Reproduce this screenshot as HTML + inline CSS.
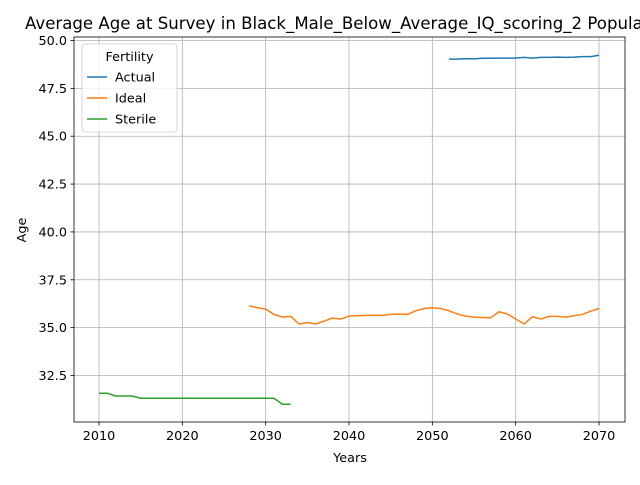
<!DOCTYPE html>
<html><head><meta charset="utf-8"><style>
body{margin:0;background:#fff;overflow:hidden}
svg text{font-family:"DejaVu Sans","Liberation Sans",sans-serif;fill:#000}
</style></head><body>
<svg id="chart" width="640" height="480" viewBox="0 0 640 480" xmlns="http://www.w3.org/2000/svg"></svg>
<script>
const xTicks=[2010,2020,2030,2040,2050,2060,2070];
const yTicks=[32.5,35.0,37.5,40.0,42.5,45.0,47.5,50.0];
const actualYears=[2052,2053,2054,2055,2056,2057,2058,2059,2060,2061,2062,2063,2064,2065,2066,2067,2068,2069,2070];
const actualVals=[49.03,49.03,49.05,49.04,49.07,49.07,49.08,49.08,49.08,49.12,49.08,49.12,49.12,49.13,49.12,49.13,49.16,49.16,49.23];
const idealStart=2028;
const idealVals=[36.14,36.04,35.97,35.69,35.55,35.59,35.19,35.26,35.19,35.34,35.50,35.45,35.60,35.62,35.64,35.64,35.64,35.69,35.71,35.69,35.88,36.00,36.04,36.00,35.88,35.71,35.60,35.55,35.53,35.52,35.83,35.71,35.45,35.19,35.57,35.45,35.59,35.59,35.55,35.62,35.69,35.86,36.00];
const sterileStart=2010;
const sterileVals=[31.57,31.57,31.43,31.43,31.43,31.31,31.31,31.31,31.31,31.31,31.31,31.31,31.31,31.31,31.31,31.31,31.31,31.31,31.31,31.31,31.31,31.31,31.0,31.0];

const L=74,R=625,T=37,B=422;
const X=v=>99+(v-2010)*(500/60);
const Y=v=>40.5+(50-v)*(335/17.5);
const svg=document.getElementById('chart');
const NS='http://www.w3.org/2000/svg';
function mk(tag,attrs,parent){const e=document.createElementNS(NS,tag);for(const k in attrs)e.setAttribute(k,attrs[k]);(parent||svg).appendChild(e);return e;}

xTicks.forEach(t=>{
  const g=mk('line',{x1:X(t),x2:X(t),y1:T,y2:B,stroke:'#b0b0b0','stroke-width':0.8});
  
  
  mk('line',{x1:X(t),x2:X(t),y1:B,y2:B+3.5,stroke:'#000','stroke-width':0.8});
  const tx=mk('text',{x:X(t),y:B+18,'font-size':12.8,'text-anchor':'middle'});tx.textContent=t;
  
  
});
yTicks.forEach(t=>{
  const g=mk('line',{x1:L,x2:R,y1:Y(t),y2:Y(t),stroke:'#b0b0b0','stroke-width':0.8});
  
  
  mk('line',{x1:L-3.5,x2:L,y1:Y(t),y2:Y(t),stroke:'#000','stroke-width':0.8});
  const tx=mk('text',{x:L-7,y:Y(t)+4.5,'font-size':12.8,'text-anchor':'end'});tx.textContent=t.toFixed(1);
  
  
});
function line(xs,vs,color,name){
  const p=mk('polyline',{points:vs.map((v,i)=>X(xs[i])+','+Y(v)).join(' '),fill:'none',stroke:color,'stroke-width':1.5,'stroke-linejoin':'round'});
  
  
}
line(actualYears,actualVals,'#1f77b4','actual-line');
line(idealVals.map((_,i)=>idealStart+i),idealVals,'#ff7f0e','ideal-line');
line(sterileVals.map((_,i)=>sterileStart+i),sterileVals,'#2ca02c','sterile-line');

const fr=mk('rect',{x:L,y:T,width:R-L,height:B-T,fill:'none',stroke:'#000','stroke-width':0.8});



const title=mk('text',{x:25,y:29,'font-size':16.6});title.textContent='Average Age at Survey in Black_Male_Below_Average_IQ_scoring_2 Population';


const xl=mk('text',{x:350,y:462,'font-size':12.8,'text-anchor':'middle'});xl.textContent='Years';


const yl=mk('text',{x:26,y:230,'font-size':12.8,'text-anchor':'middle',transform:'rotate(-90 26 230)'});yl.textContent='Age';



const lg=mk('g',{});


mk('rect',{x:82,y:44,width:95,height:88,rx:3,fill:'#fff','fill-opacity':0.8,stroke:'#ccc','stroke-width':0.8},lg);
const lt=mk('text',{x:129.5,y:61,'font-size':12.8,'text-anchor':'middle'},lg);lt.textContent='Fertility';
const series=[['Actual','#1f77b4'],['Ideal','#ff7f0e'],['Sterile','#2ca02c']];
series.forEach((s,i)=>{
  const yy=77+i*21;
  const e=mk('g',{},lg);
  
  
  mk('line',{x1:87,x2:107,y1:yy,y2:yy,stroke:s[1],'stroke-width':1.5},e);
  const t=mk('text',{x:115,y:yy+4.5,'font-size':12.8},e);t.textContent=s[0];
});
</script>
</body></html>
